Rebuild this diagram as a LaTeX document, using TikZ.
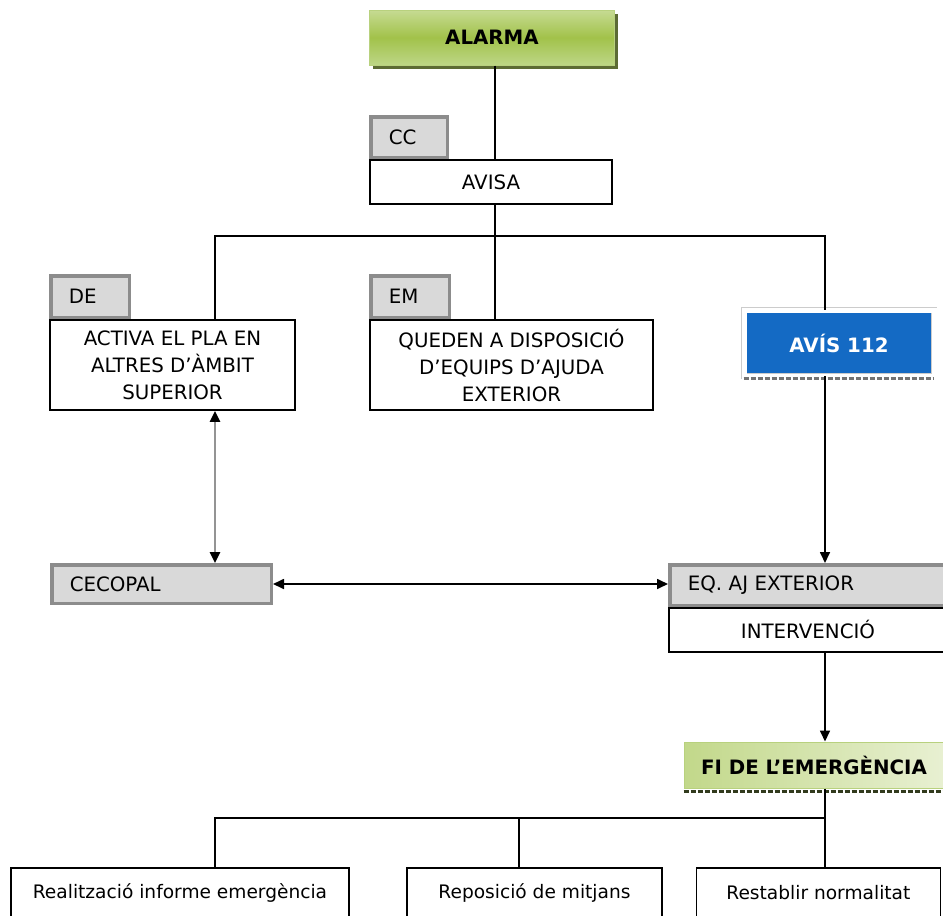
\documentclass[tikz,border=0pt]{standalone}
\usepackage{fontspec}
\setmainfont{DejaVu Sans}
\usetikzlibrary{positioning, arrows.meta, shadows}

\definecolor{tabfill}{HTML}{D9D9D9}
\definecolor{tabedge}{HTML}{8C8C8C}
\definecolor{avisblue}{HTML}{146AC4}
\definecolor{alarmtop}{HTML}{C6DB93}
\definecolor{alarmmid}{HTML}{A2C24A}
\definecolor{alarmbot}{HTML}{BDD686}
\definecolor{alarmedge}{HTML}{B8D17E}
\definecolor{alarmshadow}{HTML}{5C6B34}
\definecolor{fileft}{HTML}{C2D88A}
\definecolor{firight}{HTML}{E8F0D2}

\tikzset{
  txt/.style = {font=\fontsize{19.8}{27}\selectfont},
  box/.style = {draw, line width=1.7pt, fill=white, align=center, inner sep=0pt, txt},
  tab/.style = {draw=tabedge, line width=3.5pt, fill=tabfill, inner xsep=18pt,
    inner ysep=0pt, align=left, txt},
  link/.style = {line width=1.7pt},
  shadowdash/.style = {line width=2.5pt, dash pattern=on 5pt off 2pt},
}

\begin{document}
\begin{tikzpicture}[x=1pt, y=-1pt, >={Triangle[length=11pt, width=10pt]}]
\useasboundingbox (0,0) rectangle (943,916);

\node[box, draw=alarmedge, line width=1pt, top color=alarmtop, bottom color=alarmbot,
  middle color=alarmmid, minimum width=245pt, minimum height=55pt,
  drop shadow={shadow xshift=3.5pt, shadow yshift=-3.5pt, fill=alarmshadow, opacity=1},
  font=\fontsize{19.8}{27}\selectfont\bfseries] (alarma) at (492,37.5) {ALARMA};

\node[box, minimum width=242pt, minimum height=44pt] (avisa) at (491,182) {AVISA};
\node[tab, text width=40.5pt, minimum height=40.5pt,
  above right=0pt and 0pt of avisa.north west] (cc) {CC};

\node[box, minimum width=245pt, minimum height=90pt] (de) at (172.5,365)
  {ACTIVA EL PLA EN\\ALTRES D’ÀMBIT\\SUPERIOR};
\node[tab, text width=42.5pt, minimum height=41.5pt,
  above right=0pt and 0pt of de.north west] (detab) {DE};

\node[box, minimum width=283pt, minimum height=90pt] (em) at (511.5,365)
  {QUEDEN A DISPOSICIÓ\\D’EQUIPS D’AJUDA\\EXTERIOR};
\node[tab, text width=42.5pt, minimum height=41.5pt,
  above right=0pt and 0pt of em.north west] (emtab) {EM};

\node[box, fill=avisblue, text=white, draw=black!20, line width=0.6pt, double=white,
  double distance=5pt, minimum width=190pt, minimum height=66pt,
  font=\fontsize{19.8}{27}\selectfont\bfseries] (avis) at (839,343) {AVÍS 112};
\draw[shadowdash, black!55] ([yshift=-2pt]avis.south west) -- ([yshift=-2pt]avis.south east);

\node[tab, text width=183.5pt, minimum height=38.5pt] (cecopal) at (161.5,584) {CECOPAL};
\node[tab, text width=240.5pt, minimum height=40.5pt] (eqaj) at (808,585) {EQ. AJ EXTERIOR};
\node[box, minimum width=278.6pt, minimum height=44pt, below=0pt of eqaj] (interv) {INTERVENCIÓ};

\node[box, draw=alarmedge, line width=1pt, left color=fileft, right color=firight,
  minimum width=260pt, minimum height=46pt,
  font=\fontsize{19.8}{27}\selectfont\bfseries] (fi) at (814,765) {FI DE L’EMERGÈNCIA};
\draw[shadowdash, black!45!alarmshadow] ([yshift=-3pt]fi.south west) -- ([yshift=-3pt]fi.south east);

\node[box, minimum width=338pt, minimum height=50pt, font=\fontsize{18.6}{24}\selectfont]
  (informe) at (180,893) {Realització informe emergència};
\node[box, minimum width=255pt, minimum height=50pt, font=\fontsize{18.6}{24}\selectfont,
  right=56.3pt of informe] (reposicio) {Reposició de mitjans};
\node[box, minimum width=244pt, minimum height=50pt, font=\fontsize{18.6}{24}\selectfont,
  right=32.7pt of reposicio] (restablir) {Restablir normalitat};

% junctions
\coordinate (jc) at (495,236);
\coordinate (jl) at (215,236);
\coordinate (jr) at (825,236);
\coordinate (kl) at (215,818);
\coordinate (km) at (519,818);
\coordinate (kr) at (825,818);

\draw[link] (alarma.south -| jc) -- (avisa.north -| jc);
\draw[link] (avisa.south -| jc) -- (jc);
\draw[link] (de.north -| jl) |- (jr) -- (avis.north -| jr);
\draw[link] (jc) -- (em.north -| jc);
\draw[link, ->] (avis.south -| jr) -- (eqaj.north -| jr);
\draw[line width=2.6pt, draw=black!42, {Triangle[color=black, length=11pt, width=10pt]}-{Triangle[color=black, length=11pt, width=10pt]}]
  (de.south -| jl) -- (cecopal.north -| jl);
\draw[link, <->] (cecopal.east) -- (cecopal.east -| eqaj.west);
\draw[link, ->] (interv.south -| jr) -- (fi.north -| jr);

\draw[link] (fi.south -| kr) -- (restablir.north -| kr);
\draw[link] (informe.north -| kl) |- (kr);
\draw[link] (km) -- (reposicio.north -| km);
\end{tikzpicture}
\end{document}
